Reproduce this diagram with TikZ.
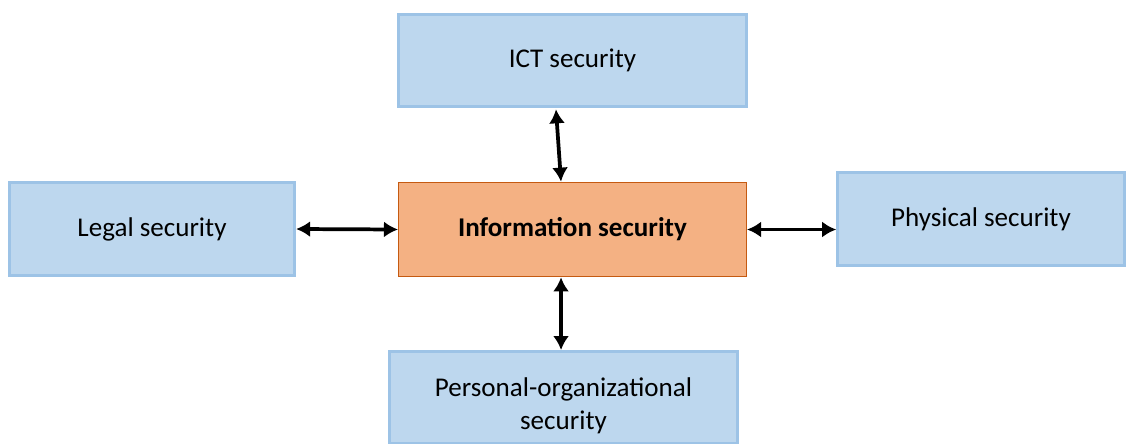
\documentclass[tikz,border=0pt]{standalone}
\usepackage{fontspec}
\setmainfont{Carlito}
\usetikzlibrary{arrows.meta}
\definecolor{boxblue}{HTML}{BDD7EE}
\definecolor{lineblue}{HTML}{9DC3E6}
\definecolor{boxorange}{HTML}{F4B183}
\definecolor{lineorange}{HTML}{C55A11}
\begin{document}
\begin{tikzpicture}[x=0.75pt,y=-0.75pt]
			\tikzset{area/.style = {shape=rectangle,draw=lineblue,line width=2.2pt,fill=boxblue,
				inner sep=0pt,align=center,font=\fontsize{20.3}{24.8}\selectfont}}
			\tikzset{core/.style = {shape=rectangle,draw=lineorange,line width=0.8pt,fill=boxorange,
				minimum width=261pt,minimum height=71pt,inner sep=0pt,font=\bfseries\fontsize{20.3}{24.8}\selectfont}}
			\tikzset{edge/.style = {{Latex[length=10.5pt,width=12pt]}-{Latex[length=10.5pt,width=12pt]},line width=2.8pt}}
			\useasboundingbox (0,0) rectangle (1132,443);
			% boxes
			\node[core] (info) at (572.5, 229.5) {Information security};
			\node[area, minimum width=261pt, minimum height=69pt] (ict) at (572.5, 60.5) {ICT security};
			\node[area, minimum width=214pt, minimum height=70pt] (legal) at (152, 229) {Legal security};
			\node[area, minimum width=215pt, minimum height=70pt] (phys) at (981, 219) {Physical security};
			\node[area, minimum width=261pt, minimum height=69pt, text depth=-4pt] (pers) at (563.5, 397.5) {\rule{0pt}{23pt}Personal-organizational\\security};
			% arrows
			\draw[edge] ([xshift=-12.4pt, yshift=-1pt]ict.south) -- ([xshift=-8.6pt]info.north);
			\draw[edge] (legal.east) -- (info.west);
			\draw[edge] (info.east) -- (info.east -| phys.west);
			\draw[edge] ([xshift=-8.6pt]info.south) -- ([xshift=-8.6pt]info.south |- pers.north);
\end{tikzpicture}
\end{document}
